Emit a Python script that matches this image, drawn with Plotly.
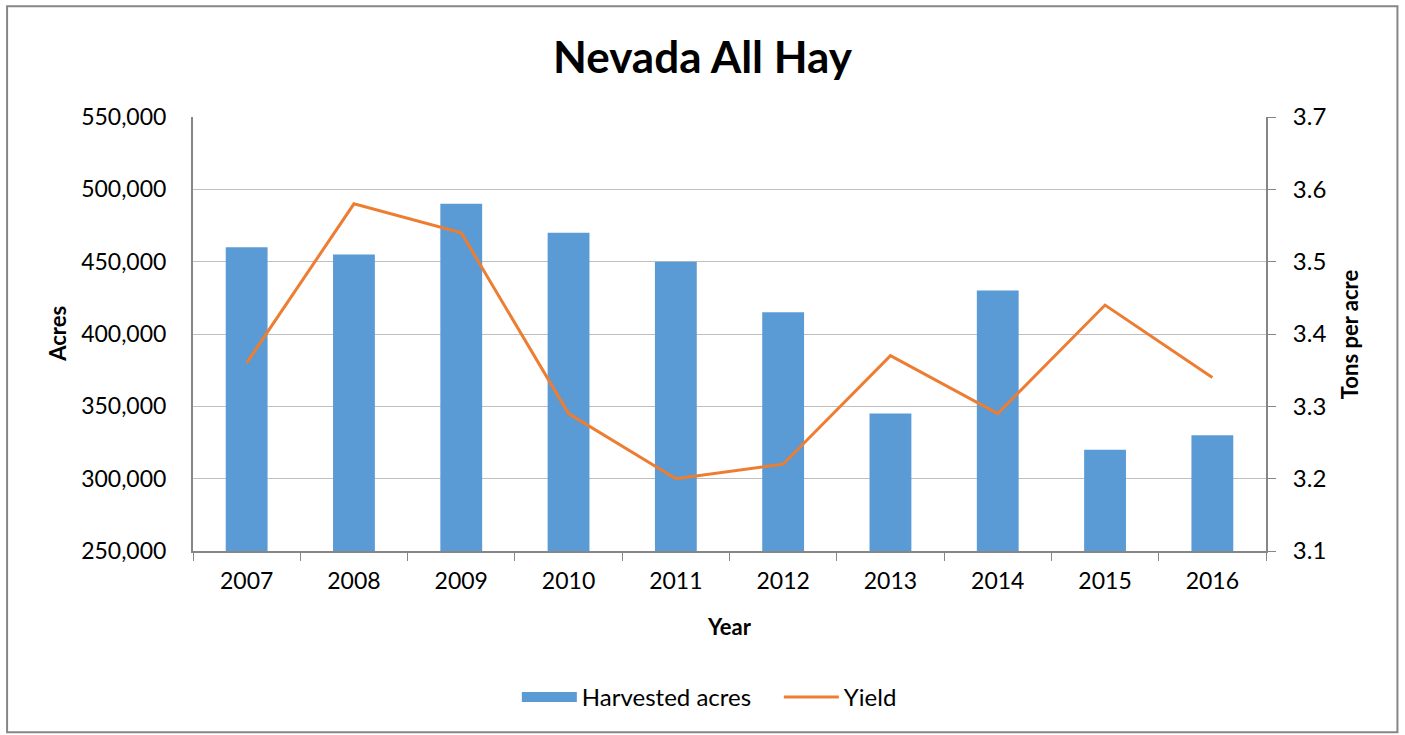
import plotly.graph_objects as go

years = ["2007", "2008", "2009", "2010", "2011", "2012", "2013", "2014", "2015", "2016"]
harvested_acres = [460000, 455000, 490000, 470000, 450000, 415000, 345000, 430000, 320000, 330000]
yield_tpa = [3.36, 3.58, 3.54, 3.29, 3.20, 3.22, 3.37, 3.29, 3.44, 3.34]

FONT = "Lato"
L, R, T, B = 193, 1266.5, 117, 551.5
W, H = 1405, 735
ph = B - T
pw = R - L

def py(ypix):
    return (B - ypix) / ph

def px(xpix):
    return (xpix - L) / pw

fig = go.Figure()
fig.add_trace(go.Bar(x=years, y=harvested_acres, name="Harvested acres",
                     marker=dict(color="#5B9BD5", line=dict(width=0)), yaxis="y",
                     showlegend=False, legendgroup="bar"))
# legend-only entry to mimic the wide rectangle key
fig.add_trace(go.Scatter(x=[None], y=[None], name="Harvested acres", mode="lines",
                         line=dict(color="#5B9BD5", width=14), legendgroup="bar",
                         showlegend=True))
fig.add_trace(go.Scatter(x=years, y=yield_tpa, name="Yield", mode="lines",
                         line=dict(color="#ED7D31", width=3), yaxis="y2"))

fig.update_layout(
    width=W, height=H,
    margin=dict(l=L, r=W - R, t=T, b=H - B, autoexpand=False),
    paper_bgcolor="white", plot_bgcolor="white",
    font=dict(family=FONT, size=24, color="black"),
    bargap=0.61,
    showlegend=True,
    legend=dict(orientation="h", x=px(517), xanchor="left", y=py(698), yanchor="middle",
                font=dict(size=24), itemwidth=55, entrywidth=192, tracegroupgap=0),
    title=dict(text="<b>Nevada All Hay</b>", x=0.5, xanchor="center", y=1 - 58 / H,
               yanchor="middle", yref="container", font=dict(size=44, family=FONT)),
    xaxis=dict(type="category", tickson="boundaries", ticks="outside", ticklen=8,
               tickcolor="#868686", showline=True, linecolor="#868686", linewidth=2,
               showgrid=False, ticklabelstandoff=8, tickfont=dict(size=23)),
    yaxis=dict(range=[250000, 550000], dtick=50000, tickformat=",", showgrid=True,
               gridcolor="#BFBFBF", gridwidth=1, showline=True, linecolor="#868686",
               linewidth=2, ticks="", ticklabelstandoff=20, zeroline=False,
               tickfont=dict(size=23)),
    yaxis2=dict(range=[3.1, 3.7], dtick=0.1, tickformat=".1f", overlaying="y", side="right",
                showgrid=False, showline=True, linecolor="#868686", linewidth=2,
                ticks="outside", ticklen=8, tickcolor="#868686", ticklabelstandoff=12,
                zeroline=False, tickfont=dict(size=24)),
    annotations=[
        dict(text="<b>Acres</b>", x=px(58), y=py(334), xref="paper", yref="paper",
             textangle=-90, showarrow=False, font=dict(size=22), xanchor="center", yanchor="middle"),
        dict(text="<b>Tons per acre</b>", x=px(1350), y=py(334), xref="paper", yref="paper",
             textangle=-90, showarrow=False, font=dict(size=22), xanchor="center", yanchor="middle"),
        dict(text="<b>Year</b>", x=0.5, y=py(627), xref="paper", yref="paper",
             showarrow=False, font=dict(size=22), xanchor="center", yanchor="middle"),
    ],
    shapes=[dict(type="rect", xref="paper", yref="paper", x0=px(7), x1=px(1398),
                 y0=py(733), y1=py(6), line=dict(color="#868686", width=2), layer="below")],
)

fig.write_html("out.html", config={"displayModeBar": False},
               post_script="document.body.style.margin='0';document.body.style.overflow='hidden';")
